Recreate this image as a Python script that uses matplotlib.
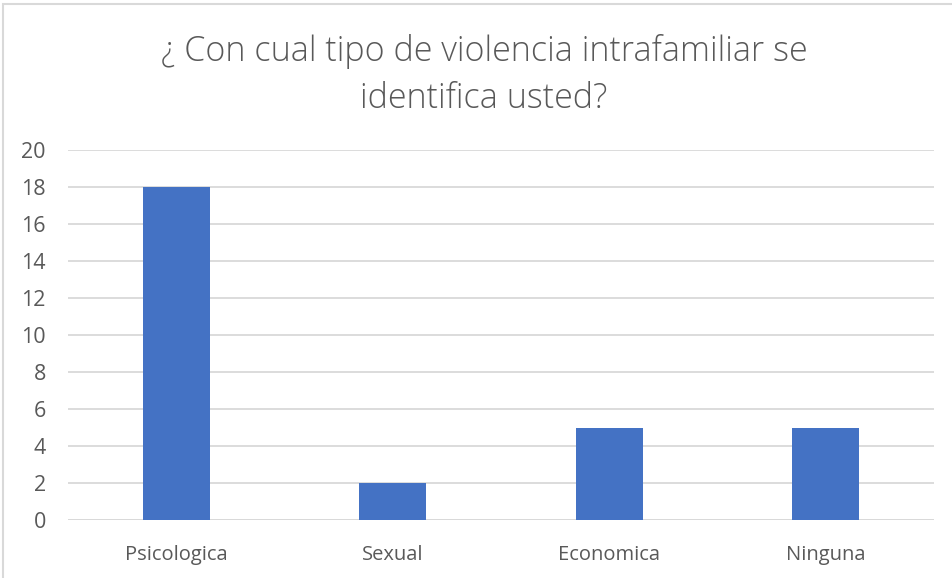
import matplotlib.pyplot as plt
from matplotlib.patches import Rectangle

# chart data
categorias = ["Psicologica", "Sexual", "Economica", "Ninguna"]
valores = [18, 2, 5, 5]
y_ticks = [0, 2, 4, 6, 8, 10, 12, 14, 16, 18, 20]
titulo = "¿ Con cual tipo de violencia intrafamiliar se\nidentifica usted?"

plt.rcParams['font.family'] = ['Open Sans', 'DejaVu Sans']

fig = plt.figure(figsize=(9.52, 5.78), dpi=100)
fig.patch.set_facecolor("white")

# outer chart border (only left and top visible in the reference)
fig.patches.append(Rectangle((3 / 952, -0.1), 1.2, 1 - 4 / 578 + 0.1,
                             transform=fig.transFigure, fill=False,
                             edgecolor="#D9D9D9", linewidth=1.5))

ax = fig.add_axes([68 / 952, 1 - 520 / 578, (934 - 68) / 952, (520 - 150) / 578])
x = range(len(categorias))
ax.bar(x, valores, width=0.31, color="#4472C4", zorder=3)

ax.set_xlim(-0.5, len(categorias) - 0.5)
ax.set_ylim(0, 20)
ax.set_yticks(y_ticks)
ax.set_xticks(list(x))
ax.set_xticklabels(categorias)
ax.grid(axis="y", color="#D9D9D9", linewidth=1.3, zorder=0)
ax.axhline(0, color="#D9D9D9", linewidth=1.3, zorder=2)

for s in ax.spines.values():
    s.set_visible(False)
ax.tick_params(axis="both", length=0, labelsize=14.5, labelcolor="#595959")
ax.tick_params(axis="x", pad=18)
ax.tick_params(axis="y", labelsize=15.5, pad=16)

fig.text(484 / 952, 1 - 75 / 578, titulo, ha="center", va="center", fontsize=24.5,
         color="#595959", linespacing=1.45, fontweight="light")

fig.savefig("out.png", dpi=100)
